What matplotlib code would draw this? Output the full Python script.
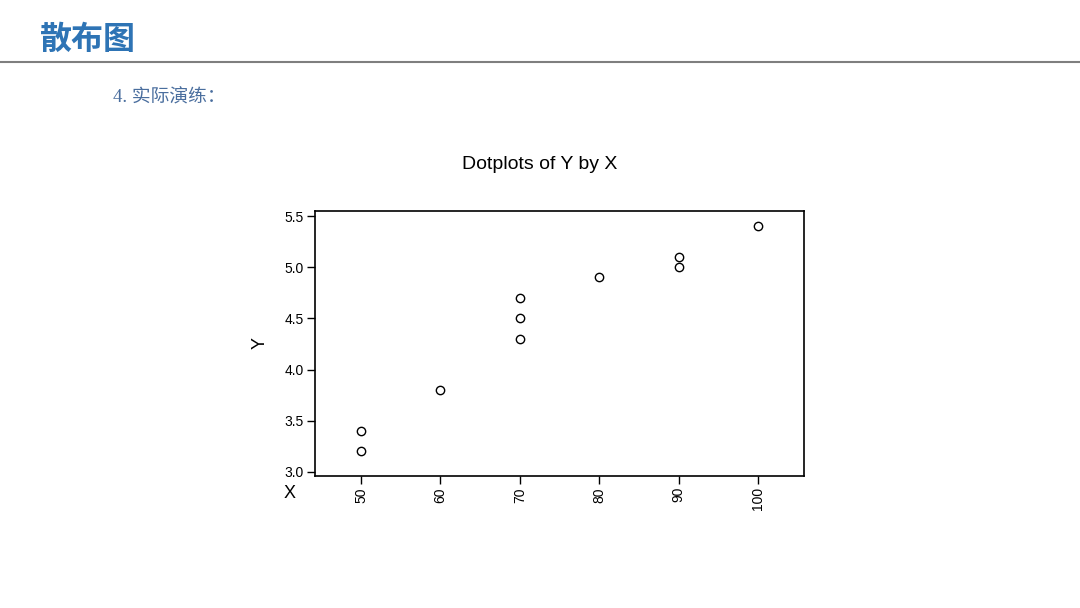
import matplotlib.pyplot as plt

# --- data ---
x_vals = [50, 50, 60, 70, 70, 70, 80, 90, 90, 100]
y_vals = [3.2, 3.4, 3.8, 4.3, 4.5, 4.7, 4.9, 5.0, 5.1, 5.4]
x_ticks = [50, 60, 70, 80, 90, 100]
y_ticks = [3.0, 3.5, 4.0, 4.5, 5.0, 5.5]

plt.rcParams['font.family'] = ['Noto Sans CJK SC', 'DejaVu Sans']

fig = plt.figure(figsize=(10.8, 6.08), dpi=100)
W, H = 1080, 608

# --- slide header ---
fig.text(40 / W, 1 - 40 / H, "散布图", fontsize=23, fontweight='bold',
         color='#2e74b5', va='center', ha='left')
fig.add_artist(plt.Line2D([0, 1], [1 - 62 / H, 1 - 62 / H],
                          color='#7f7f7f', lw=1.5, transform=fig.transFigure))
fig.text(113 / W, 1 - 98 / H, "4. 实际演练：", fontsize=13.5,
         family=['Liberation Serif', 'Noto Sans CJK SC'],
         color='#4a6e9e', va='center', ha='left')

# --- the dotplot ---
ax = fig.add_axes([315 / W, 1 - 476 / H, (804 - 315) / W, (476 - 211) / H])
ax.plot(x_vals, y_vals, 'o', mfc='none', mec='black', ms=6, mew=1.0)
ax.set_xlim(44.2, 105.8)
ax.set_ylim(2.96, 5.549)
ax.set_xticks(x_ticks)
ax.set_xticklabels([str(v) for v in x_ticks], rotation=90, family='Liberation Sans')
ax.set_yticks(y_ticks)
ax.set_yticklabels([f"{v:.1f}" for v in y_ticks], family='Liberation Sans')
ax.tick_params(labelsize=10, length=6, width=1, direction='out', pad=2)
for sp in ax.spines.values():
    sp.set_linewidth(1.2)

fig.text(540 / W, 1 - 165 / H, "Dotplots of Y by X", fontsize=14,
         family='Liberation Sans', ha='center', va='center')
fig.text(260 / W, 1 - 343 / H, "Y", fontsize=13, rotation=90, family='Liberation Sans',
         ha='center', va='center')
fig.text(290 / W, 1 - 494 / H, "X", fontsize=13, family='Liberation Sans',
         ha='center', va='center')

fig.savefig("out.png", dpi=100)
